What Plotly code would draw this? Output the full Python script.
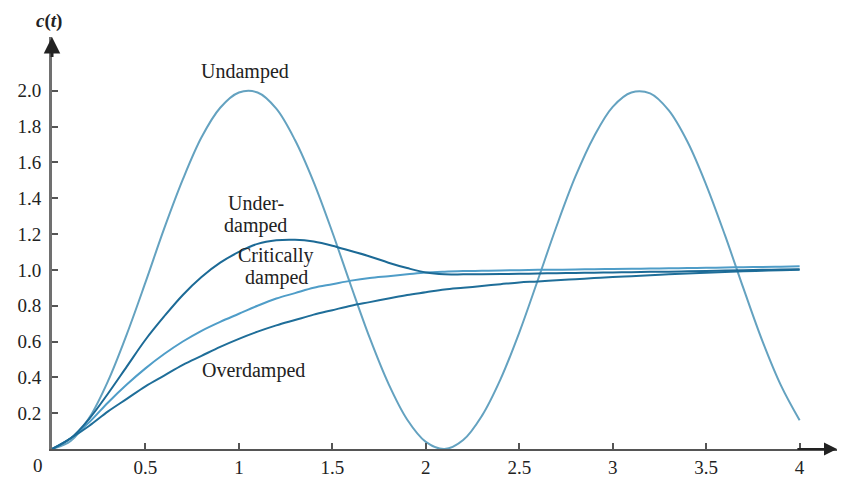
import plotly.graph_objects as go

t = [round(0.1 * i, 1) for i in range(41)]

undamped = [0.00, 0.045, 0.175, 0.38, 0.64, 0.93, 1.23, 1.505, 1.74, 1.905, 1.99,
            1.99, 1.90, 1.725, 1.49, 1.21, 0.91, 0.62, 0.365, 0.165, 0.04,
            0.00, 0.05, 0.185, 0.39, 0.65, 0.945, 1.245, 1.52, 1.745, 1.91,
            1.99, 1.985, 1.89, 1.715, 1.475, 1.195, 0.895, 0.605, 0.355, 0.16]

underdamped = [0.00, 0.06, 0.17, 0.31, 0.46, 0.61, 0.74, 0.86, 0.96, 1.04, 1.10,
               1.145, 1.165, 1.168, 1.158, 1.135, 1.105, 1.075, 1.04, 1.01, 0.985,
               0.975, 0.975, 0.976, 0.977, 0.978, 0.98, 0.981, 0.983, 0.984, 0.986,
               0.987, 0.989, 0.99, 0.992, 0.994, 0.996, 0.998, 1.0, 1.002, 1.004]

critically = [0.00, 0.06, 0.15, 0.26, 0.36, 0.45, 0.53, 0.60, 0.66, 0.71, 0.755,
              0.80, 0.84, 0.87, 0.90, 0.92, 0.94, 0.955, 0.965, 0.975, 0.985,
              0.99, 0.993, 0.995, 0.997, 0.998, 1.0, 1.001, 1.002, 1.004, 1.005,
              1.006, 1.007, 1.009, 1.01, 1.012, 1.013, 1.015, 1.016, 1.018, 1.02]

overdamped = [0.00, 0.06, 0.13, 0.21, 0.28, 0.35, 0.41, 0.47, 0.52, 0.57, 0.615,
              0.655, 0.69, 0.72, 0.75, 0.775, 0.80, 0.82, 0.84, 0.86, 0.875,
              0.89, 0.90, 0.91, 0.92, 0.93, 0.935, 0.942, 0.948, 0.954, 0.96,
              0.965, 0.97, 0.975, 0.98, 0.984, 0.988, 0.992, 0.995, 0.998, 1.0]

x_ticks = [0.5, 1, 1.5, 2, 2.5, 3, 3.5, 4]
x_tick_text = ["0.5", "1", "1.5", "2", "2.5", "3", "3.5", "4"]
y_ticks = [0.2, 0.4, 0.6, 0.8, 1.0, 1.2, 1.4, 1.6, 1.8, 2.0]
y_tick_text = ["0.2", "0.4", "0.6", "0.8", "1.0", "1.2", "1.4", "1.6", "1.8", "2.0"]

series = [
    ("Undamped", undamped, "#64a2c0"),
    ("Critically damped", critically, "#4f9dc8"),
    ("Overdamped", overdamped, "#1f6e99"),
    ("Underdamped", underdamped, "#1c6a96"),
]

fig = go.Figure()
for name, vals, col in series:
    fig.add_trace(go.Scatter(x=t, y=vals, mode="lines", name=name,
                             line=dict(color=col, width=2, shape="spline", smoothing=1.0),
                             showlegend=False, hoverinfo="skip"))

serif = "Liberation Serif, Times New Roman, serif"
txt = "#222222"

# page body has an 8px margin, so the figure is sized/placed to compensate
fig.update_layout(
    width=838, height=469,
    margin=dict(l=44, r=9, t=29, b=28, autoexpand=False),
    paper_bgcolor="white", plot_bgcolor="white",
    font=dict(family=serif, size=19, color=txt),
    xaxis=dict(range=[0, 4.2], showgrid=False, zeroline=False, automargin=False,
               showline=True, linecolor="#555555", linewidth=2,
               ticks="inside", ticklen=6, tickwidth=1.5, tickcolor="#555555",
               tickvals=x_ticks, ticktext=x_tick_text,
               tickfont=dict(family=serif, size=19, color=txt)),
    yaxis=dict(range=[0, 2.3], showgrid=False, zeroline=False, automargin=False,
               showline=True, linecolor="#707070", linewidth=3,
               ticks="inside", ticklen=6, tickwidth=1.5, tickcolor="#555555",
               tickvals=y_ticks, ticktext=y_tick_text,
               ticklabelstandoff=4,
               tickfont=dict(family=serif, size=19, color=txt)),
)

lab = dict(family=serif, size=20, color=txt)
annots = [
    dict(x=4.2, y=0, ax=3.98, ay=0, xref="x", yref="y", axref="x", ayref="y",
         showarrow=True, arrowhead=2, arrowsize=1.3, arrowwidth=2, arrowcolor="#222222", text=""),
    dict(x=0, y=2.3, ax=0, ay=2.18, xref="x", yref="y", axref="x", ayref="y",
         showarrow=True, arrowhead=2, arrowsize=1.1, arrowwidth=3, arrowcolor="#222222", text=""),
    dict(x=0, y=0, xref="paper", yref="paper", xanchor="center", yanchor="middle",
         xshift=-14, yshift=-16, text="0",
         showarrow=False, font=dict(family=serif, size=19, color=txt)),
    dict(x=0, y=1, xref="paper", yref="paper", xanchor="center", yanchor="middle",
         yshift=16, xshift=-3, text="<b><i>c</i>(<i>t</i>)</b>",
         showarrow=False, font=dict(family=serif, size=19, color=txt)),
    dict(x=4.2, y=0, xref="x", yref="y", xanchor="center", yanchor="middle",
         xshift=5, yshift=-3,
         text="<b><i>t</i></b>", showarrow=False, font=dict(family=serif, size=17, color=txt)),
    dict(x=1.03, y=2.105, xref="x", yref="y", text="Undamped", showarrow=False, font=lab),
    dict(x=1.09, y=1.375, xref="x", yref="y", text="Under-", showarrow=False, font=lab),
    dict(x=1.09, y=1.25, xref="x", yref="y", text="damped", showarrow=False, font=lab),
    dict(x=1.2, y=1.08, xref="x", yref="y", text="Critically", showarrow=False, font=lab),
    dict(x=1.2, y=0.96, xref="x", yref="y", text="damped", showarrow=False, font=lab),
    dict(x=1.08, y=0.44, xref="x", yref="y", text="Overdamped", showarrow=False, font=lab),
]
fig.update_layout(annotations=annots)

fig.write_html("out.html")
